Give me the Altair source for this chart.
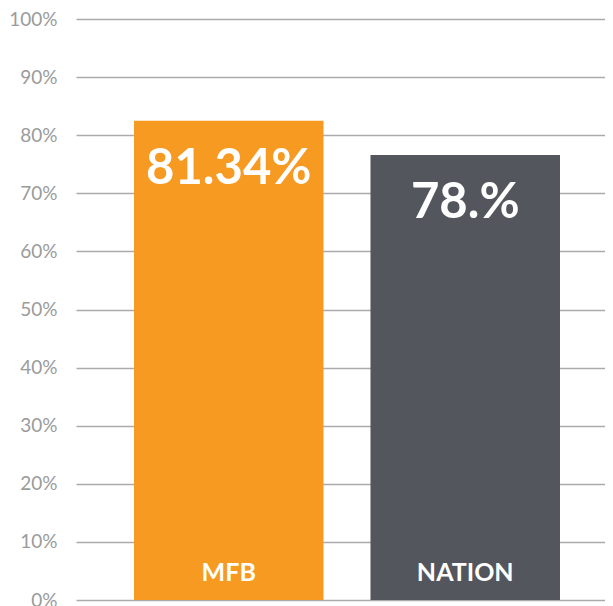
import altair as alt
import pandas as pd

categories = ["MFB", "NATION"]
values = [0.825, 0.766]
value_labels = ["81.34%", "78.%"]
colors = ["#F79A22", "#53565D"]

df = pd.DataFrame({"cat": categories, "value": values, "label": value_labels})

x = alt.X("cat:N", sort=categories, axis=None,
          scale=alt.Scale(paddingInner=0.1987, paddingOuter=0.2177, align=0.563))
y_scale = alt.Scale(domain=[0, 1], nice=False)

bars = alt.Chart(df).mark_bar().encode(
    x=x,
    y=alt.Y("value:Q", scale=y_scale,
            axis=alt.Axis(format=".0%", values=[i / 10 for i in range(11)],
                          title=None, domain=False, ticks=False,
                          labelPadding=19, labelFontSize=19,
                          labelFont="Lato", labelColor="#9B9B9B",
                          gridColor="#ABABAB", gridWidth=1.5, gridOpacity=1)),
    color=alt.Color("cat:N", scale=alt.Scale(domain=categories, range=colors), legend=None),
)

value_text = alt.Chart(df).mark_text(
    font="Lato", fontWeight="bold", fontSize=49, color="white",
    baseline="middle", dy=48
).encode(x=x, y=alt.Y("value:Q", scale=y_scale), text="label:N")

cat_text = alt.Chart(df).mark_text(
    font="Lato", fontWeight="bold", fontSize=25, color="white",
    baseline="middle", dy=-27
).encode(x=x, y=alt.datum(0), text="cat:N")

chart = alt.layer(bars, value_text, cat_text).properties(
    width=529, height=581,
    autosize=alt.AutoSizeParams(type="none"),
    padding={"left": 68, "top": 11, "right": 0, "bottom": 6},
).configure_view(stroke=None)

chart.save("out.html", embed_options={"renderer": "svg", "actions": False})
